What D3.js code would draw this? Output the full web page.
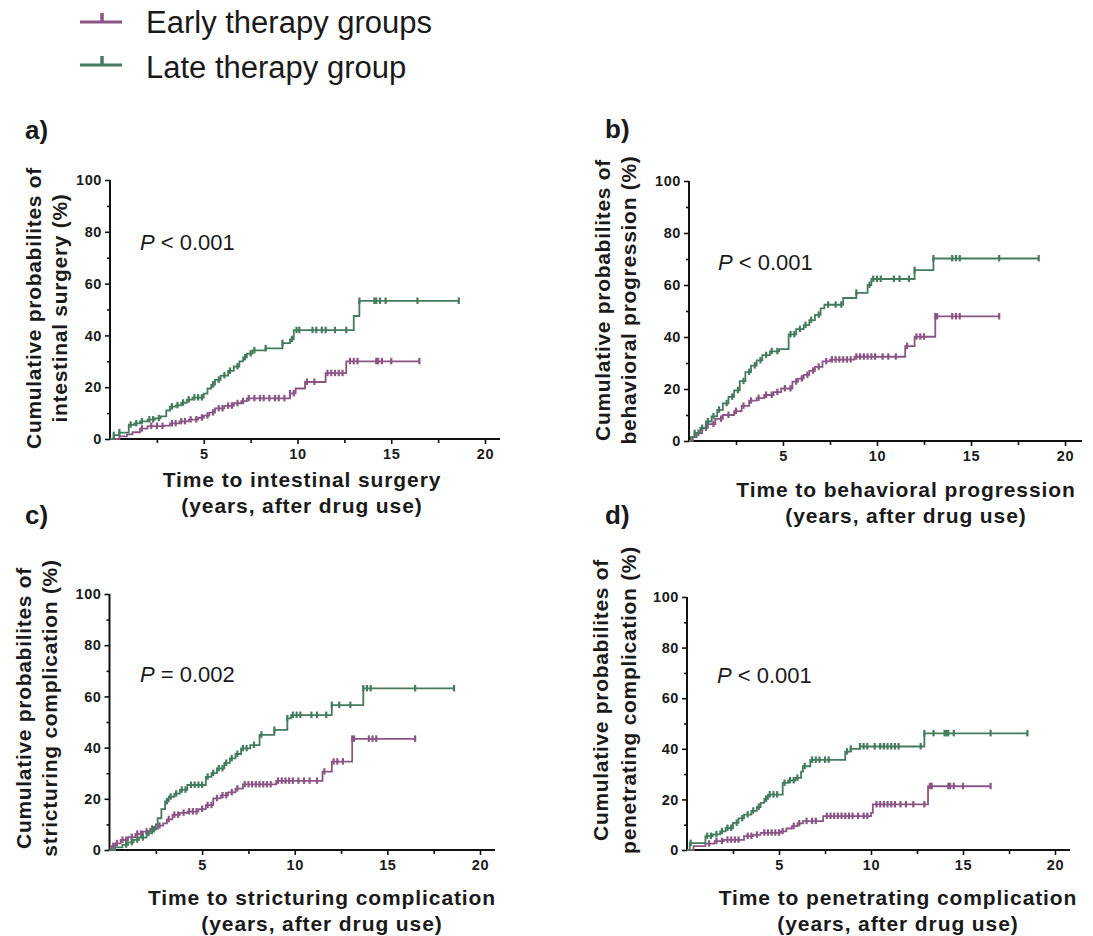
<!DOCTYPE html>
<html>
<head>
<meta charset="utf-8">
<script src="https://cdn.jsdelivr.net/npm/d3@7"></script>
<style>
  body { margin: 0; background: #fff; }
  svg text { font-family: "Liberation Sans", Arial, sans-serif; fill: #1a1a1a; }
</style>
</head>
<body>
<svg id="drawing_region"></svg>
<script>
// ---- data ----
const groups = ["Early therapy groups", "Late therapy group"];
const xTicks = [5, 10, 15, 20];
const xMinor = [2.5, 7.5, 12.5, 17.5];
const yTicks = [0, 20, 40, 60, 80, 100];
const yMinor = [10, 30, 50, 70, 90];

const panelLabels = ["a)", "b)", "c)", "d)"];
const pSigns = ["<", "<", "=", "<"];
const pValues = ["0.001", "0.001", "0.002", "0.001"];
const xTitles = ["Time to intestinal surgery", "Time to behavioral progression",
                 "Time to stricturing complication", "Time to penetrating complication"];
const yTitles = ["intestinal surgery (%)", "behavioral progression (%)",
                 "stricturing complication (%)", "penetrating complication (%)"];

const earlyEnd = [16.5, 16.5, 16.5, 16.5];
const lateEnd = [18.6, 18.6, 18.6, 18.5];

// [time (years), cumulative %] after each step
const surgeryEarly = [[0,0],[0.5,1],[0.9,1.8],[1.2,2.6],[1.6,4],[2.0,5],[2.9,5.2],[3.2,6],[3.7,6.8],[4.2,7.5],[4.7,8.2],[5.0,9],[5.3,10.2],[5.6,11.8],[6.1,12.8],[6.6,13.8],[7.0,14.6],[7.3,15.7],[9.6,17.6],[9.9,19.5],[10.4,22],[11.5,25.4],[12.6,30]];
const surgeryLate = [[0,0],[0.2,1.5],[0.5,2.5],[1.0,5.5],[1.3,6],[1.6,6.8],[2.0,7.5],[2.4,8],[2.7,8.7],[3.0,11],[3.2,12.5],[3.5,13],[3.8,14],[4.1,15.2],[4.4,16],[5.0,17.5],[5.2,19.5],[5.4,21],[5.6,22.8],[5.9,24.5],[6.3,26.3],[6.6,28],[6.9,30],[7.1,31.5],[7.3,33],[7.6,34.2],[8.3,35],[9.2,37],[9.6,38.5],[9.8,42],[13.0,47.5],[13.3,53.3]];
const behaviorEarly = [[0,0],[0.2,1.5],[0.4,3],[0.7,5],[1.0,6.5],[1.4,8.5],[1.8,10],[2.4,11.5],[2.8,13.5],[3.2,15.5],[3.6,16.5],[4.0,17.7],[4.5,18.8],[4.9,20.2],[5.5,22.8],[5.8,24],[6.1,25.4],[6.4,27],[6.7,28.5],[7.1,30.6],[7.5,31.3],[8.8,32.4],[11.5,36.5],[12.0,40.1],[13.1,47.9]];
const behaviorLate = [[0,0],[0.1,1.5],[0.3,3],[0.6,5],[0.9,7.5],[1.2,9.5],[1.5,12],[1.8,14.5],[2.1,17],[2.4,19.5],[2.7,23],[3.0,26.5],[3.3,29],[3.6,31],[3.9,33],[4.3,34.5],[4.8,35.3],[5.3,41],[5.7,43],[6.1,44.6],[6.4,46.5],[6.7,48.5],[7.0,51],[7.2,52.4],[8.2,55],[8.9,57],[9.5,60],[9.7,62.3],[12.0,65.7],[13.0,70.2]];
const strictEarly = [[0,0],[0.1,1.5],[0.3,2.6],[0.6,3.9],[1.0,5],[1.4,6.3],[1.8,7.2],[2.2,8.3],[2.6,9.5],[2.9,10.4],[3.1,12],[3.4,13.7],[3.8,14.5],[4.2,15],[4.8,16],[5.2,17.5],[5.6,20.2],[6.0,21.3],[6.4,22.5],[6.8,24],[7.2,25.6],[9.0,27],[11.5,30.6],[12.0,34.5],[13.1,43.4]];
const strictLate = [[0,0],[0.3,1],[0.7,2],[1.0,3],[1.3,4],[1.6,4.8],[2.0,6.5],[2.3,8],[2.5,10],[2.6,12.4],[2.8,16],[3.0,19],[3.2,20.8],[3.5,22],[3.8,23.5],[4.2,25.4],[5.2,28.6],[5.5,30],[5.8,31.9],[6.2,34],[6.5,35.8],[6.8,37.5],[7.1,39.7],[7.6,41],[8.1,45],[8.9,46.9],[9.6,51.4],[9.8,52.7],[12.0,56.6],[13.7,63.1]];
const penetEarly = [[0,0],[0.35,1.5],[1.0,2.5],[1.5,3.5],[2.0,4],[3.1,5.5],[3.6,6],[4.0,6.8],[5.1,7.4],[5.4,8.5],[5.7,9.4],[6.0,10.5],[6.3,11.4],[7.4,13.4],[10.0,14.7],[10.1,18],[13.1,25.2]];
const penetLate = [[0,0],[0.15,2.7],[1.0,5.5],[1.4,6.2],[1.8,7.4],[2.1,8.7],[2.5,10.7],[2.8,12.5],[3.1,14],[3.5,15.5],[3.8,17],[4.0,18.6],[4.2,20.2],[4.4,21.9],[5.2,26.5],[5.5,27.5],[5.9,28.5],[6.2,31],[6.3,33.1],[6.7,35.6],[8.6,38.9],[8.9,40],[9.4,40.9],[12.9,46.1]];

// censored observations (years)
const surgeryEarlyCensor = [1.7,2.2,2.5,2.8,3.3,3.5,3.8,4.0,4.3,4.6,4.9,5.2,5.5,5.8,6.0,6.3,6.5,6.8,7.1,7.4,7.7,8.0,8.2,8.5,8.8,9.0,9.3,9.6,9.8,10.5,10.9,11.6,11.8,12.0,12.2,12.4,12.8,13.0,13.2,14.2,14.3,14.5,15.0,16.5];
const surgeryLateCensor = [0.2,0.5,1.1,1.4,1.7,2.1,2.3,2.6,3.3,3.6,3.9,4.2,4.5,4.7,4.9,5.5,5.8,6.1,6.4,6.8,7.2,7.5,7.7,8.3,9.2,9.7,9.95,10.1,10.8,11.0,11.3,11.5,12.0,12.6,13.3,14.1,14.2,14.4,14.7,16.4,18.6];
const behaviorEarlyCensor = [0.5,0.9,1.3,1.7,2.1,2.5,2.9,3.3,3.7,4.1,4.4,4.7,5.1,5.4,5.7,6.0,6.3,6.6,6.9,7.3,7.6,7.8,8.0,8.2,8.4,8.6,8.9,9.1,9.3,9.5,9.7,9.9,10.3,10.6,11.0,11.6,12.1,12.3,12.5,13.1,13.2,14.0,14.2,14.4,16.5];
const behaviorLateCensor = [0.3,0.7,1.0,1.3,1.6,2.0,2.3,2.6,2.9,3.2,3.5,3.8,4.1,4.4,4.7,5.4,5.6,5.9,6.2,6.5,6.9,7.4,7.8,8.1,8.9,9.6,9.8,10.0,10.2,10.9,11.2,11.7,12.0,13.0,14.0,14.2,14.4,16.5,18.6];
const strictEarlyCensor = [0.2,0.4,0.7,0.9,1.2,1.5,1.7,2.0,2.3,2.7,3.2,3.5,3.7,4.0,4.3,4.5,4.7,5.0,5.3,5.5,5.8,6.1,6.3,6.6,6.9,7.3,7.5,7.7,7.9,8.1,8.3,8.5,8.7,9.1,9.3,9.5,9.7,9.9,10.2,10.5,10.8,11.2,11.6,12.1,12.3,12.6,13.1,13.2,14.0,14.2,14.4,16.5];
const strictLateCensor = [0.9,1.2,1.5,1.8,2.1,2.4,3.1,3.3,3.6,3.9,4.1,4.4,4.6,4.8,5.0,5.3,5.6,5.9,6.1,6.3,6.6,6.9,7.2,7.4,7.8,8.2,8.9,9.6,9.9,10.1,10.3,10.9,11.2,11.7,12.0,12.4,13.0,13.7,13.9,14.1,16.5,18.6];
const penetEarlyCensor = [1.2,1.6,1.9,2.2,2.4,2.6,2.8,3.3,3.5,3.8,4.2,4.4,4.6,4.8,5.0,5.2,5.8,6.1,6.5,6.8,7.0,7.6,7.8,8.0,8.2,8.4,8.6,8.8,9.0,9.3,9.6,9.8,10.3,10.5,10.7,10.9,11.1,11.3,11.6,11.9,12.3,12.9,13.2,13.3,14.2,14.3,14.5,15.0,16.5];
const penetLateCensor = [0.2,1.1,1.3,1.6,1.9,2.2,2.4,2.7,3.0,3.3,3.6,3.9,4.3,4.5,4.7,4.9,5.3,5.6,5.8,6.0,6.4,6.8,7.0,7.2,7.5,7.7,8.7,8.9,9.4,9.6,9.8,10.2,10.5,10.7,10.9,11.1,11.3,11.5,12.7,12.9,13.4,14.0,14.1,14.2,14.5,16.5,18.5];

const earlyCurves = [surgeryEarly, behaviorEarly, strictEarly, penetEarly];
const lateCurves = [surgeryLate, behaviorLate, strictLate, penetLate];
const earlyCensors = [surgeryEarlyCensor, behaviorEarlyCensor, strictEarlyCensor, penetEarlyCensor];
const lateCensors = [surgeryLateCensor, behaviorLateCensor, strictLateCensor, penetLateCensor];

const colors = ["#8a5584", "#437b5c"];

// ---- layout ----
const layout = [
    {left:110, x20:485, axisEnd:500, top:180, bottom:439, label:[25,139], p:[140,250], xt:[302,487], yt:[41,67,308]},
    {left:689, x20:1065, axisEnd:1082, top:181, bottom:441, label:[605,138], p:[718,270], xt:[906,497], yt:[610,636,300]},
    {left:109.5, x20:480, axisEnd:495, top:594, bottom:850, label:[25,524], p:[140,682], xt:[322,905], yt:[31,57,708]},
    {left:687, x20:1055, axisEnd:1070, top:597, bottom:850, label:[605,524], p:[717,683], xt:[898,905], yt:[608,636,700]}
];

const svg = d3.select('#drawing_region')
    .attr('width', 1093)
    .attr('height', 936);

// legend
groups.forEach((g, i) => {
    const y = [22, 65][i];
    const lg = svg.append('g');
    lg.append('line').attr('x1', 80).attr('x2', 122).attr('y1', y).attr('y2', y)
        .attr('stroke', colors[i]).attr('stroke-width', 3);
    lg.append('line').attr('x1', 102).attr('x2', 102).attr('y1', y - 9).attr('y2', y + 1)
        .attr('stroke', colors[i]).attr('stroke-width', 3.5);
    lg.append('text').attr('x', 146).attr('y', [33, 78][i])
        .attr('font-size', '31px').text(g);
});

function valueAt(curve, t) {
    let v = 0;
    curve.forEach(d => { if (d[0] <= t + 1e-9) v = d[1]; });
    return v;
}

layout.forEach((L, k) => {
    const xscale = d3.scaleLinear().domain([0, 20]).range([L.left, L.x20]);
    const yscale = d3.scaleLinear().domain([0, 100]).range([L.bottom, L.top]);
    const g = svg.append('g');

    // y axis
    const yaxis = d3.axisLeft(yscale).tickValues(yTicks).tickSize(5).tickPadding(3);
    const yg = g.append('g').attr('transform', `translate(${L.left},0)`).call(yaxis);
    const ym = g.append('g').attr('transform', `translate(${L.left},0)`)
        .call(d3.axisLeft(yscale).tickValues(yMinor).tickSize(3).tickFormat(''));
    // x axis
    const xaxis = d3.axisBottom(xscale).tickValues(xTicks).tickSize(5).tickPadding(5);
    const xg = g.append('g').attr('transform', `translate(0,${L.bottom})`).call(xaxis);
    const xm = g.append('g').attr('transform', `translate(0,${L.bottom})`)
        .call(d3.axisBottom(xscale).tickValues(xMinor).tickSize(4).tickFormat(''));
    [yg, ym, xg, xm].forEach(a => {
        a.select('.domain').remove();
        a.selectAll('line').attr('stroke', '#111').attr('stroke-width', 1.6);
        a.selectAll('text').attr('font-size', '14.5px').attr('font-weight', 'bold')
            .attr('letter-spacing', '0.6px')
            .attr('font-family', '"Liberation Sans", Arial, sans-serif').attr('fill', '#1a1a1a');
    });
    g.append('line').attr('x1', L.left).attr('x2', L.left).attr('y1', L.top).attr('y2', L.bottom)
        .attr('stroke', '#111').attr('stroke-width', 2);
    g.append('line').attr('x1', L.left).attr('x2', L.axisEnd).attr('y1', L.bottom).attr('y2', L.bottom)
        .attr('stroke', '#111').attr('stroke-width', 2);

    // curves
    const line = d3.line()
        .x(d => xscale(d[0]))
        .y(d => yscale(d[1]))
        .curve(d3.curveStepAfter);
    [[earlyCurves[k], earlyCensors[k], earlyEnd[k]], [lateCurves[k], lateCensors[k], lateEnd[k]]]
        .forEach(([curve, cens, end], i) => {
            const pts = curve.concat([[end, curve[curve.length - 1][1]]]);
            g.append('path').datum(pts)
                .attr('d', line)
                .attr('fill', 'none')
                .attr('stroke', colors[i])
                .attr('stroke-width', 1.8);
            g.selectAll(null).data(cens).enter()
                .append('line')
                .attr('x1', d => xscale(d)).attr('x2', d => xscale(d))
                .attr('y1', d => yscale(valueAt(curve, d)) - 3.5)
                .attr('y2', d => yscale(valueAt(curve, d)) + 3)
                .attr('stroke', colors[i])
                .attr('stroke-width', 2.2);
        });

    // texts
    svg.append('text').attr('x', L.label[0]).attr('y', L.label[1])
        .attr('font-size', '26px').attr('font-weight', 'bold').text(panelLabels[k]);

    const pt = svg.append('text').attr('x', L.p[0]).attr('y', L.p[1]).attr('font-size', '22px');
    pt.append('tspan').attr('font-style', 'italic').text('P');
    pt.append('tspan').text(` ${pSigns[k]} ${pValues[k]}`);

    const xt = svg.append('text').attr('text-anchor', 'middle')
        .attr('font-size', '21px').attr('font-weight', 'bold').attr('letter-spacing', '0.9px');
    xt.append('tspan').attr('x', L.xt[0]).attr('y', L.xt[1]).text(xTitles[k]);
    xt.append('tspan').attr('x', L.xt[0]).attr('y', L.xt[1] + 26).text('(years, after drug use)');

    const yt = svg.append('g').attr('transform', `translate(0,${L.yt[2]}) rotate(-90)`);
    yt.append('text').attr('x', 0).attr('y', L.yt[0]).attr('text-anchor', 'middle')
        .attr('font-size', '21px').attr('font-weight', 'bold').attr('letter-spacing', '0.7px')
        .text('Cumulative probabilites of');
    yt.append('text').attr('x', 0).attr('y', L.yt[1]).attr('text-anchor', 'middle')
        .attr('font-size', '21px').attr('font-weight', 'bold').attr('letter-spacing', '0.7px')
        .text(yTitles[k]);
});
</script>
</body>
</html>
